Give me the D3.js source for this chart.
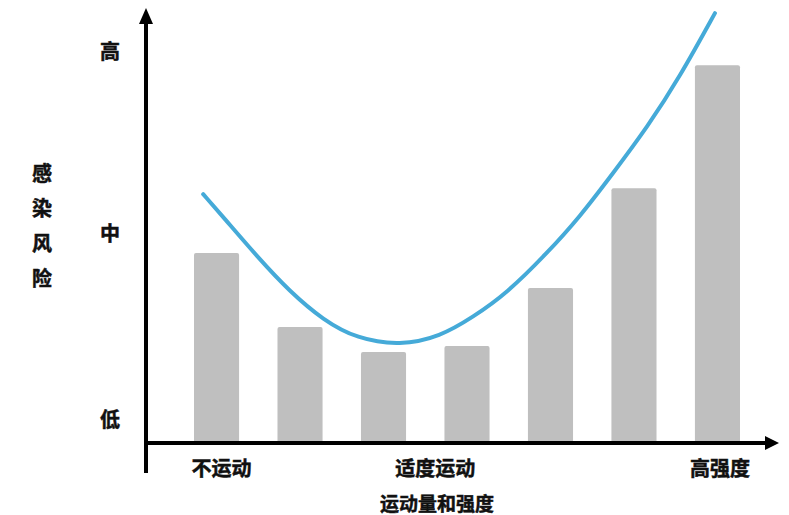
<!DOCTYPE html>
<html>
<head>
<meta charset="utf-8">
<script src="https://cdn.jsdelivr.net/npm/d3@7"></script>
<style>
    html, body { margin: 0; padding: 0; background: #fff; }
    svg text { font-family: "Noto Sans CJK SC", "Noto Sans", sans-serif; font-weight: bold; fill: #111; stroke: #111; stroke-width: 0.5px; }
</style>
</head>
<body>
<div id="chart"></div>
<script>
// exercise levels (only three are labelled on the axis)
const levels = ["L1", "L2", "L3", "L4", "L5", "L6", "L7"];
// bar heights, risk on a 0-100 scale
const barRisk = [43.7, 26.5, 20.7, 22.1, 35.6, 58.8, 87.4];

// blue trend curve, x in level index units
const curveX = [-0.16, 0.08, 0.49, 0.88, 1.28, 1.68, 2.2, 2.68, 3.07, 3.48, 3.96, 4.35, 4.75, 5.16, 5.55, 5.97];
const curveRisk = [57.4, 52.1, 42.8, 34.7, 28.1, 23.8, 22.2, 24.3, 28.8, 34.4, 43.7, 52.1, 62.3, 73.0, 84.7, 99.5];

// axis labels
const xTickPos = [0.06, 2.62, 6.03];
const xTickLabels = ["不运动", "适度运动", "高强度"];
const yTickVals = [5.3, 48.4, 90.9];
const yTickLabels = ["低", "中", "高"];
const yTitle = ["感", "染", "风", "险"];
const xTitle = "运动量和强度";

const width = 789,
    height = 515,
    axisX = 146,
    axisY = 443;

const svg = d3.select("#chart")
    .append("svg")
    .attr("width", width)
    .attr("height", height);

const x = d3.scaleBand()
    .domain(levels)
    .range([194, 740])
    .paddingInner(0.46)
    .paddingOuter(0);

// continuous position along the same axis (index -> band centre)
const xPos = d3.scaleLinear()
    .domain([0, levels.length - 1])
    .range([x(levels[0]) + x.bandwidth() / 2, x(levels[levels.length - 1]) + x.bandwidth() / 2]);

const y = d3.scaleLinear()
    .domain([0, 100])
    .range([441, 11]);

// bars
svg.append("g")
    .selectAll("path.bar")
    .data(barRisk)
    .enter()
    .append("path")
    .attr("class", "bar")
    .attr("fill", "#bfbfbf")
    .attr("d", (d, i) => {
        let x0 = x(levels[i]), x1 = x0 + x.bandwidth(),
            y0 = y(0), y1 = y(d), r = 2;
        return "M" + x0 + "," + y0 +
            "V" + (y1 + r) +
            "Q" + x0 + "," + y1 + " " + (x0 + r) + "," + y1 +
            "H" + (x1 - r) +
            "Q" + x1 + "," + y1 + " " + x1 + "," + (y1 + r) +
            "V" + y0 + "Z";
    });

// trend curve
const line = d3.line()
    .x(d => xPos(d[0]))
    .y(d => y(d[1]))
    .curve(d3.curveBasis);

svg.append("path")
    .datum(curveX.map((v, i) => [v, curveRisk[i]]))
    .attr("fill", "none")
    .attr("stroke", "#45aad8")
    .attr("stroke-width", 4)
    .attr("stroke-linecap", "round")
    .attr("d", line);

// axes with arrows
svg.append("line")
    .attr("x1", axisX).attr("y1", 473)
    .attr("x2", axisX).attr("y2", 20)
    .attr("stroke", "#000").attr("stroke-width", 4);
svg.append("path")
    .attr("d", "M" + axisX + ",8 L" + (axisX - 7) + ",24 L" + (axisX + 7) + ",24 Z")
    .attr("fill", "#000");

svg.append("line")
    .attr("x1", axisX - 2).attr("y1", axisY)
    .attr("x2", 768).attr("y2", axisY)
    .attr("stroke", "#000").attr("stroke-width", 4);
svg.append("path")
    .attr("d", "M779," + axisY + " L765," + (axisY - 7) + " L765," + (axisY + 7) + " Z")
    .attr("fill", "#000");

// y tick labels
svg.append("g")
    .selectAll("text")
    .data(yTickVals)
    .enter()
    .append("text")
    .attr("x", 110)
    .attr("y", d => y(d))
    .attr("text-anchor", "middle")
    .attr("dominant-baseline", "central")
    .style("font-size", "20px")
    .text((d, i) => yTickLabels[i]);

// x tick labels
svg.append("g")
    .selectAll("text")
    .data(xTickPos)
    .enter()
    .append("text")
    .attr("x", d => xPos(d))
    .attr("y", 467)
    .attr("text-anchor", "middle")
    .attr("dominant-baseline", "central")
    .style("font-size", "20px")
    .text((d, i) => xTickLabels[i]);

// titles
svg.append("g")
    .selectAll("text")
    .data(yTitle)
    .enter()
    .append("text")
    .attr("x", 42)
    .attr("y", (d, i) => 172 + i * 35)
    .attr("text-anchor", "middle")
    .attr("dominant-baseline", "central")
    .style("font-size", "20px")
    .text(d => d);

svg.append("text")
    .attr("x", 437)
    .attr("y", 502)
    .attr("text-anchor", "middle")
    .attr("dominant-baseline", "central")
    .style("font-size", "19px")
    .text(xTitle);
</script>
</body>
</html>
